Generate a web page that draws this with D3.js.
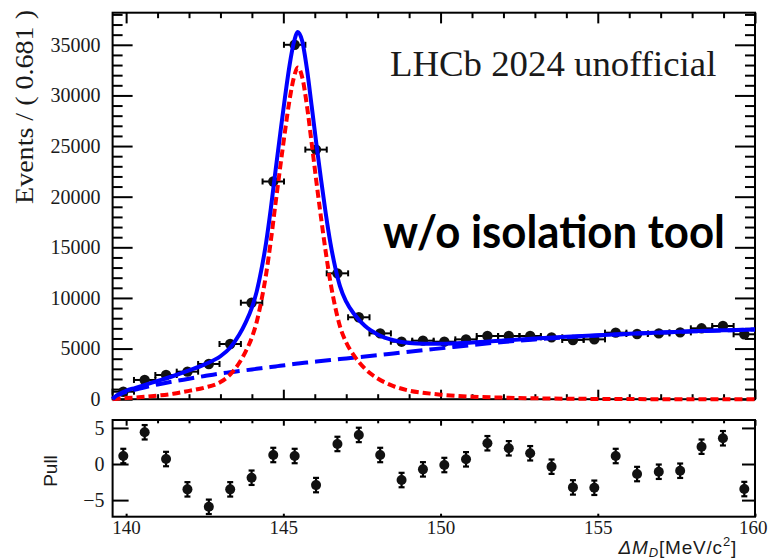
<!DOCTYPE html>
<html>
<head>
<meta charset="utf-8">
<script src="https://cdn.jsdelivr.net/npm/d3@7"></script>
<style>
  html, body { margin: 0; padding: 0; background: #ffffff; }
  svg { display: block; }
</style>
</head>
<body>
<svg id="chart" width="768" height="560"></svg>
<script>
// ΔM_D histogram: 30 bins of 0.681 MeV/c² between 139.57 and 160
const binCenters = [139.91, 140.59, 141.27, 141.95, 142.63, 143.31, 143.99, 144.68, 145.36, 146.04,
                    146.72, 147.40, 148.08, 148.76, 149.44, 150.12, 150.81, 151.49, 152.17, 152.85,
                    153.53, 154.21, 154.89, 155.57, 156.25, 156.94, 157.62, 158.30, 158.98, 159.66];
const binHalfWidth = 0.3405;
const events = [740, 1900, 2390, 2720, 3480, 5450, 9530, 21500, 35000, 24650,
                12430, 8090, 6500, 5680, 5780, 5680, 5910, 6240, 6240, 6240,
                6110, 5850, 5910, 6570, 6440, 6500, 6600, 7000, 7230, 6410];
const pulls = [1.11, 4.40, 0.69, -3.51, -5.93, -3.51, -1.90, 1.25, 1.11, -2.92,
               2.78, 4.03, 1.25, -2.22, -0.74, -0.14, 0.65, 2.88, 2.18, 1.49,
               -0.37, -3.24, -3.29, 1.11, -1.39, -1.07, -0.93, 2.40, 3.57, -3.47];

// Fit components sampled along ΔM_D
const curveX = [139.57, 139.65, 139.8, 140.0, 140.3, 140.7, 141.0, 141.5, 142.0, 142.5,
                143.0, 143.3, 143.6, 143.8, 144.0, 144.15, 144.3, 144.45, 144.6, 144.75,
                144.9, 145.05, 145.2, 145.33, 145.46, 145.6, 145.75, 145.9, 146.05, 146.2,
                146.35, 146.5, 146.65, 146.8, 147.0, 147.25, 147.6, 148.0, 148.5, 149.0,
                149.5, 150.0, 151.0, 152.0, 153.0, 154.0, 155.0, 156.0, 157.0, 158.0,
                159.0, 160.0];
const signalCurve = [0, 20, 60, 110, 170, 260, 350, 540, 820, 1150,
                     1700, 2400, 3600, 4700, 6100, 7600, 9700, 12300, 15600, 19300,
                     22900, 26400, 29600, 31700, 32750, 31800, 29000, 25300, 21500, 17900,
                     14500, 11500, 9100, 7200, 5600, 4300, 3000, 2050, 1300, 850,
                     620, 450, 250, 150, 90, 50, 25, 10, 5, 0,
                     0, 0];
const backgroundCurve = [0, 220, 480, 720, 950, 1250, 1450, 1750, 2020, 2290,
                         2540, 2660, 2780, 2860, 2940, 3000, 3060, 3120, 3180, 3240,
                         3300, 3360, 3420, 3470, 3520, 3570, 3620, 3670, 3720, 3770,
                         3820, 3870, 3920, 3970, 4030, 4110, 4220, 4350, 4520, 4690,
                         4860, 5020, 5350, 5650, 5900, 6110, 6290, 6450, 6580, 6700,
                         6800, 6890];
const totalCurve = [0, 240, 540, 830, 1120, 1510, 1800, 2290, 2840, 3440,
                    4240, 5060, 6380, 7560, 9040, 10600, 12760, 15420, 18780, 22540,
                    26200, 29760, 33020, 35170, 36270, 35370, 32620, 28970, 25220, 21670,
                    18320, 15370, 13020, 11170, 9630, 8410, 7220, 6400, 5820, 5540,
                    5480, 5470, 5600, 5800, 5990, 6160, 6315, 6460, 6585, 6700,
                    6800, 6890];

// Axis ticks
const xMajorTicks = [140, 145, 150, 155, 160];
const xMinorTicks = [141, 142, 143, 144, 146, 147, 148, 149, 151, 152, 153, 154, 156, 157, 158, 159];
const yMajorTicks = [0, 5000, 10000, 15000, 20000, 25000, 30000, 35000];
const pullTicks = [-5, 0, 5];

const svg = d3.select("#chart");
const left = 112.6, right = 755;
const mainTop = 12.7, mainBottom = 399.2;
const pullTop = 420, pullBottom = 516.7;

const x = d3.scaleLinear().domain([139.57, 160]).range([left, right]);
const yMain = d3.scaleLinear().domain([0, 38170]).range([mainBottom, mainTop]);
const yPull = d3.scaleLinear().domain([-7.3, 6.1]).range([pullBottom, pullTop]);

const serif = "'Liberation Serif', 'Times New Roman', serif";
const sans = "'Liberation Sans', Arial, sans-serif";

function styleAxis(g, fontSize) {
  g.select(".domain").remove();
  g.selectAll(".tick line").attr("stroke", "#000").attr("stroke-width", 2);
  g.selectAll(".tick text").attr("font-family", serif).attr("font-size", fontSize).attr("fill", "#1a1a1a");
}
function tickAxis(axis, transform, values, size) {
  svg.append("g").attr("transform", transform)
    .call(axis.tickValues(values).tickSize(size).tickFormat(""))
    .call(g => styleAxis(g, 0));
}

// ---------- frames ----------
svg.append("rect").attr("x", left).attr("y", mainTop)
  .attr("width", right - left).attr("height", mainBottom - mainTop)
  .attr("fill", "none").attr("stroke", "#000").attr("stroke-width", 2);
svg.append("rect").attr("x", left).attr("y", pullTop)
  .attr("width", right - left).attr("height", pullBottom - pullTop)
  .attr("fill", "none").attr("stroke", "#000").attr("stroke-width", 2);

// ---------- main panel axes ----------
const yMinor = d3.range(0, 38001, 1000).filter(v => v % 5000 !== 0);
svg.append("g").attr("transform", `translate(${left},0)`)
  .call(d3.axisLeft(yMain).tickValues(yMajorTicks).tickSize(-20).tickPadding(12).tickFormat(d3.format("d")))
  .call(g => styleAxis(g, 20));
tickAxis(d3.axisLeft(yMain), `translate(${left},0)`, yMinor, -10);
tickAxis(d3.axisRight(yMain), `translate(${right},0)`, yMajorTicks, -20);
tickAxis(d3.axisRight(yMain), `translate(${right},0)`, yMinor, -10);
tickAxis(d3.axisTop(x), `translate(0,${mainTop})`, xMajorTicks, -10.7);
tickAxis(d3.axisTop(x), `translate(0,${mainTop})`, xMinorTicks, -5.5);
tickAxis(d3.axisBottom(x), `translate(0,${mainBottom})`, xMajorTicks, -9.5);
tickAxis(d3.axisBottom(x), `translate(0,${mainBottom})`, xMinorTicks, -5);

// ---------- pull panel axes ----------
svg.append("g").attr("transform", `translate(${left},0)`)
  .call(d3.axisLeft(yPull).tickValues(pullTicks).tickSize(-16).tickPadding(8).tickFormat(d3.format("d")))
  .call(g => styleAxis(g, 20));
tickAxis(d3.axisRight(yPull), `translate(${right},0)`, pullTicks, -13);
tickAxis(d3.axisTop(x), `translate(0,${pullTop})`, xMajorTicks, -5.7);
tickAxis(d3.axisTop(x), `translate(0,${pullTop})`, xMinorTicks, -3.3);
tickAxis(d3.axisBottom(x), `translate(0,${pullBottom})`, xMajorTicks, -3);
svg.append("g").attr("transform", `translate(0,${pullBottom})`)
  .call(d3.axisBottom(x).tickValues(xMajorTicks).tickSize(0).tickPadding(4).tickFormat(d3.format("d")))
  .call(g => styleAxis(g, 19))
  // the last label sits against the window edge: keep it inside
  .call(g => g.selectAll(".tick text").filter(d => d === 160)
    .attr("text-anchor", "end").attr("x", 767 - x(160)));

// ---------- axis titles ----------
svg.append("text")
  .attr("transform", "translate(33,107) rotate(-90)")
  .attr("text-anchor", "middle")
  .attr("font-family", serif).attr("font-size", 26).attr("fill", "#1a1a1a")
  .attr("textLength", 194).attr("lengthAdjust", "spacingAndGlyphs")
  .text("Events / ( 0.681 )");

svg.append("text")
  .attr("transform", "translate(57,471) rotate(-90)")
  .attr("text-anchor", "middle")
  .attr("font-family", sans).attr("font-size", 19).attr("fill", "#1a1a1a")
  .text("Pull");

const xTitle = svg.append("text")
  .attr("x", 737).attr("y", 554)
  .attr("text-anchor", "end")
  .attr("font-family", sans).attr("font-size", 19).attr("fill", "#1a1a1a")
  .attr("letter-spacing", 0.8);
xTitle.append("tspan").attr("font-style", "italic").text("ΔM");
xTitle.append("tspan").attr("font-style", "italic").attr("font-size", 13).attr("dy", 3).text("D");
xTitle.append("tspan").attr("dy", -3).text("[MeV/c");
xTitle.append("tspan").attr("font-size", 13).attr("dy", -8).text("2");
xTitle.append("tspan").attr("dy", 8).text("]");

// ---------- annotations ----------
svg.append("text")
  .attr("x", 390).attr("y", 76)
  .attr("font-family", serif).attr("font-size", 36.8).attr("fill", "#1a1a1a")
  .text("LHCb 2024 unofficial");
svg.append("text")
  .attr("x", 383).attr("y", 248)
  .attr("font-family", "Lato, 'Open Sans', sans-serif").attr("font-weight", 700)
  .attr("font-size", 45).attr("fill", "#000")
  .attr("textLength", 342).attr("lengthAdjust", "spacingAndGlyphs")
  .text("w/o isolation tool");

// ---------- data points (main panel) ----------
const dataG = svg.append("g").attr("stroke", "#000").attr("stroke-width", 2);
binCenters.forEach((c, i) => {
  const n = events[i], cy = yMain(n), err = Math.sqrt(n);
  const x0 = x(c - binHalfWidth), x1 = x(c + binHalfWidth);
  dataG.append("line").attr("x1", x0).attr("x2", x1).attr("y1", cy).attr("y2", cy);
  dataG.append("line").attr("x1", x0).attr("x2", x0).attr("y1", cy - 3).attr("y2", cy + 3);
  dataG.append("line").attr("x1", x1).attr("x2", x1).attr("y1", cy - 3).attr("y2", cy + 3);
  dataG.append("line").attr("x1", x(c)).attr("x2", x(c)).attr("y1", yMain(n - err)).attr("y2", yMain(n + err));
  dataG.append("circle").attr("cx", x(c)).attr("cy", cy).attr("r", 5.2).attr("fill", "#111").attr("stroke", "none");
});

// ---------- fit curves ----------
const line = vals => d3.line()
  .x((d, i) => x(curveX[i]))
  .y(d => yMain(d))
  .curve(d3.curveMonotoneX)(vals);

svg.append("path").attr("d", line(backgroundCurve))
  .attr("fill", "none").attr("stroke", "#0000ff").attr("stroke-width", 4)
  .attr("stroke-dasharray", "16,7");
svg.append("path").attr("d", line(signalCurve))
  .attr("fill", "none").attr("stroke", "#ff0000").attr("stroke-width", 4)
  .attr("stroke-dasharray", "8,4");
svg.append("path").attr("d", line(totalCurve))
  .attr("fill", "none").attr("stroke", "#0000ff").attr("stroke-width", 4)
  .attr("stroke-linejoin", "round");

// ---------- pulls ----------
const pullG = svg.append("g").attr("stroke", "#000").attr("stroke-width", 2.2);
binCenters.forEach((c, i) => {
  const p = pulls[i], cx = x(c);
  const yTop = yPull(p + 1), yBot = yPull(p - 1);
  pullG.append("line").attr("x1", cx).attr("x2", cx).attr("y1", yTop).attr("y2", yBot);
  pullG.append("line").attr("x1", cx - 3).attr("x2", cx + 3).attr("y1", yTop).attr("y2", yTop);
  pullG.append("line").attr("x1", cx - 3).attr("x2", cx + 3).attr("y1", yBot).attr("y2", yBot);
  pullG.append("circle").attr("cx", cx).attr("cy", yPull(p)).attr("r", 5).attr("fill", "#111").attr("stroke", "none");
});
</script>
</body>
</html>
